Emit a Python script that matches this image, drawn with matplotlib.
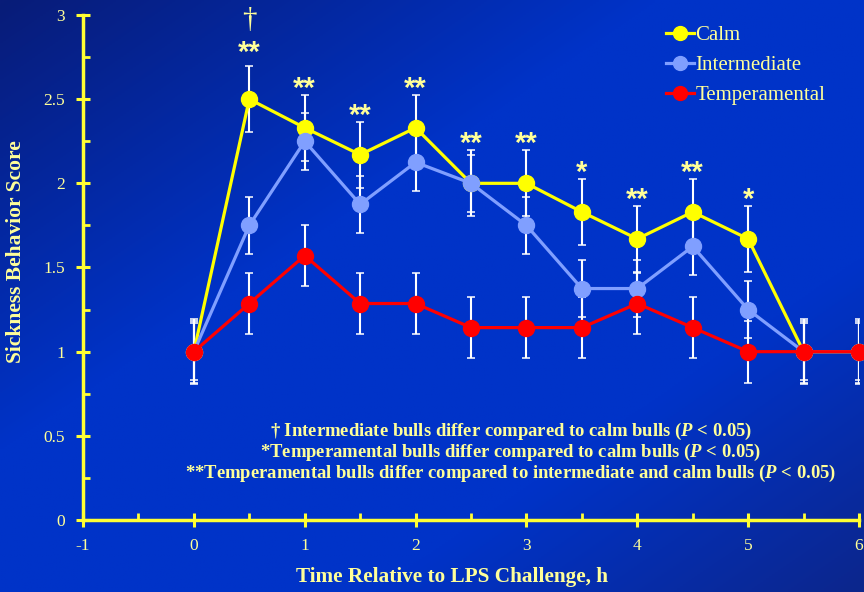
import numpy as np
import matplotlib
matplotlib.use("Agg")
import matplotlib.pyplot as plt
from matplotlib.colors import LinearSegmentedColormap
from matplotlib.lines import Line2D
from matplotlib.ticker import MultipleLocator

# sickness behaviour scores by temperament group (mean +/- SE)
hours = [0, 0.5, 1, 1.5, 2, 2.5, 3, 3.5, 4, 4.5, 5, 5.5, 6]
calm = [1.0, 2.5, 2.33, 2.17, 2.33, 2.0, 2.0, 1.83, 1.67, 1.83, 1.67, 1.0, 1.0]
calm_se = [0.193, 0.195, 0.195, 0.195, 0.195, 0.195, 0.195, 0.194, 0.196, 0.196, 0.194, 0.193, 0.193]
inter = [1.0, 1.75, 2.25, 1.875, 2.125, 2.0, 1.75, 1.375, 1.375, 1.625, 1.25, 1.0, 1.0]
inter_se = [0.169, 0.168, 0.168, 0.168, 0.168, 0.17, 0.168, 0.17, 0.17, 0.172, 0.168, 0.169, 0.169]
temp = [1.0, 1.286, 1.571, 1.286, 1.286, 1.143, 1.143, 1.143, 1.286, 1.143, 1.0, 1.0, 1.0]
temp_se = [0.184, 0.18, 0.181, 0.181, 0.181, 0.181, 0.181, 0.181, 0.182, 0.181, 0.184, 0.184, 0.184]

# significance marks above the calm error bars
sig_hours = [0.5, 1, 1.5, 2, 2.5, 3, 3.5, 4, 4.5, 5]
sig_marks = ["**", "**", "**", "**", "**", "**", "*", "**", "**", "*"]
dagger_hours = [0.5]

notes = [
    "\u2020 Intermediate bulls differ compared to calm bulls ($P$ < 0.05)",
    "*Temperamental bulls differ compared to calm bulls ($P$ < 0.05)",
    "**Temperamental bulls differ compared to intermediate and calm bulls ($P$ < 0.05)",
]

YELLOW = "#ffff33"
PALE = "#ffff99"
C_CALM = "#ffff00"
C_INTER = "#809fff"
C_TEMP = "#ff0000"

plt.rcParams["font.family"] = "Liberation Serif"
plt.rcParams["axes.unicode_minus"] = False
plt.rcParams["mathtext.fontset"] = "custom"
plt.rcParams["mathtext.it"] = "Liberation Serif:italic:bold"
plt.rcParams["mathtext.rm"] = "Liberation Serif:bold"

fig = plt.figure(figsize=(8.64, 5.92), dpi=100)

# diagonal blue gradient behind the plot
bg = fig.add_axes([0, 0, 1, 1], zorder=-10)
gx, gy = np.meshgrid(np.linspace(0, 1, 300), np.linspace(0, 1, 300))
t = (gx + gy) / 2
bg_cmap = LinearSegmentedColormap.from_list(
    "bg", [(0.0, "#081c78"), (0.38, "#0033c8"), (0.72, "#0033c8"), (1.0, "#0c268c")])
bg.imshow(t, cmap=bg_cmap, aspect="auto", extent=[0, 1, 0, 1], origin="upper")
bg.set_axis_off()

ax = fig.add_axes([0.0961, 0.1216, 0.8981, 0.8531])
ax.patch.set_alpha(0)

series = [
    (calm, calm_se, C_CALM, "Calm"),
    (inter, inter_se, C_INTER, "Intermediate"),
    (temp, temp_se, C_TEMP, "Temperamental"),
]
for vals, se, col, name in series:
    ax.errorbar(hours, vals, yerr=se, fmt="none", ecolor="white", elinewidth=1.5,
                capsize=3, capthick=1.1, zorder=2)
for i, (vals, se, col, name) in enumerate(series):
    ax.plot(hours, vals, color=col, lw=2.3, marker="o", ms=11.5, mec=col,
            zorder=3 + i, clip_on=False)

for h, m in zip(sig_hours, sig_marks):
    k = hours.index(h)
    top = max(calm[k] + calm_se[k], inter[k] + inter_se[k], temp[k] + temp_se[k])
    lift = 0.03 if h in dagger_hours else -0.01
    ax.text(h, top + lift, m, ha="center", va="baseline", color=PALE,
            fontsize=21, fontweight="bold", family="Liberation Sans")
for h in dagger_hours:
    ax.text(h, 2.93, "\u2020", ha="center", va="baseline", color=PALE,
            fontsize=21, clip_on=False)

for j, line in enumerate(notes):
    ax.text(0.5515, 0.176 - j * 0.0416, line, transform=ax.transAxes, ha="center",
            va="center", color=PALE, fontsize=13.4, fontweight="bold")

ax.set_xlim(-1, 6)
ax.set_ylim(0, 3)
ax.xaxis.set_major_locator(MultipleLocator(1))
ax.xaxis.set_minor_locator(MultipleLocator(0.5))
ax.yaxis.set_major_locator(MultipleLocator(0.5))
ax.yaxis.set_minor_locator(MultipleLocator(0.25))
ax.set_yticks([0, 0.5, 1, 1.5, 2, 2.5, 3], ["0", "0.5", "1", "1.5", "2", "2.5", "3"])

for side in ["top", "right"]:
    ax.spines[side].set_visible(False)
for side in ["left", "bottom"]:
    ax.spines[side].set_color(YELLOW)
    ax.spines[side].set_linewidth(2.5)
ax.tick_params(which="major", direction="inout", length=10, width=2.2, color=YELLOW,
               labelcolor=PALE, labelsize=12.5, pad=8)
ax.tick_params(which="minor", direction="in", length=5, width=2, color=YELLOW)

ax.set_xlabel("Time Relative to LPS Challenge, h", color=PALE, fontsize=15.3,
              fontweight="bold")
ax.set_ylabel("Sickness Behavior Score", color=PALE, fontsize=15.5,
              fontweight="bold")
ax.xaxis.set_label_coords(0.4755, -0.094)
ax.yaxis.set_label_coords(-0.073, 0.531)

handles = [Line2D([], [], color=c, lw=2.3, marker="o", ms=10, mec=c) for _, _, c, _ in series]
leg = ax.legend(handles, [s[3] for s in series], loc="upper right",
                bbox_to_anchor=(0.981, 1.016), frameon=False, fontsize=15,
                handlelength=1.3, handletextpad=0.1, labelspacing=0.5)
for txt in leg.get_texts():
    txt.set_color(PALE)

fig.savefig("out.png", dpi=100)
